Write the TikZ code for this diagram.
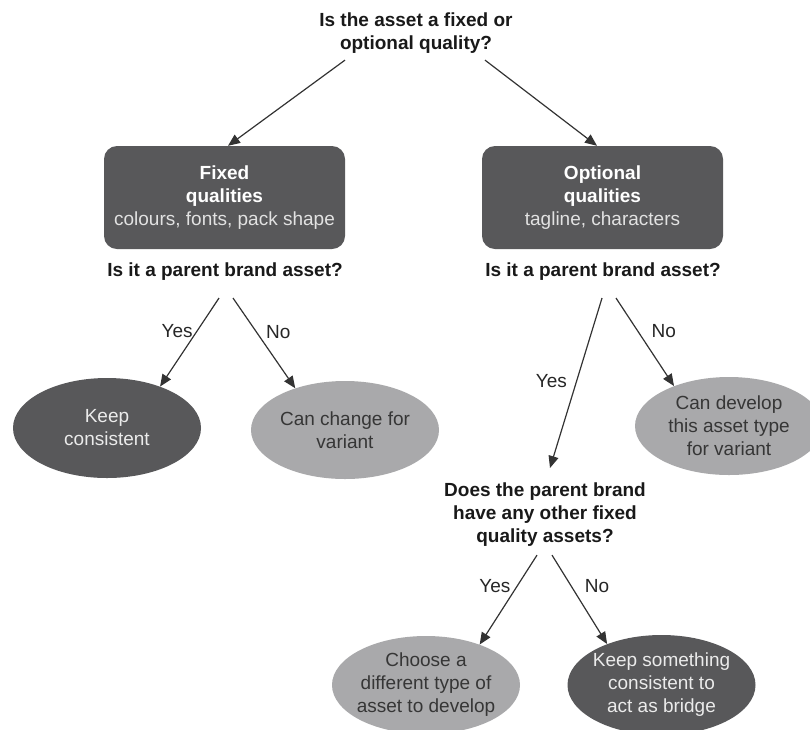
\documentclass[tikz,border=0pt]{standalone}
\usepackage{fontspec}
\setmainfont{Liberation Sans}
\usetikzlibrary{arrows.meta,positioning,shapes.geometric}
\definecolor{boxgray}{HTML}{58585A}
\definecolor{ovalgray}{HTML}{A9A9AB}
\definecolor{inkgray}{HTML}{363636}
\definecolor{subgray}{HTML}{E2E2E2}

\begin{document}
\begin{tikzpicture}[x=1pt,y=1pt,
    every node/.style={font=\fontsize{19}{23}\selectfont,inner sep=0pt,align=center},
    quest/.style={font=\bfseries\fontsize{19}{23}\selectfont,text=black!90},
    qualbox/.style={fill=boxgray,rounded corners=13pt,minimum width=241pt,minimum height=103pt,text=white},
    darkoval/.style={ellipse,fill=boxgray,inner xsep=-10pt,minimum width=188pt,minimum height=100pt,text=white!92!black},
    lightoval/.style={ellipse,fill=ovalgray,inner xsep=-10pt,minimum width=188pt,minimum height=98pt,text=inkgray},
    arr/.style={-{Triangle[length=12pt,width=10pt]},line width=1.2pt,draw=black!80},
    ans/.style={inner sep=1pt,text=black!85}]
  \useasboundingbox (0,0) rectangle (810,-729);
  \clip (0,0) rectangle (810,-729);

  \node[quest,anchor=north] (title) at (416,-13) {Is the asset a fixed or\\optional quality?};
  \node[qualbox] (fixed) at (224.5,-197.5)
       {\textbf{Fixed}\\\textbf{qualities}\\{\color{subgray}colours, fonts, pack shape}};
  \node[qualbox] (optional) at (602.5,-197.5)
       {\textbf{Optional}\\\textbf{qualities}\\{\color{subgray}tagline, characters}};
  \node[quest] (parentL) at (225,-272) {Is it a parent brand asset?};
  \node[quest] (parentR) at (603,-272) {Is it a parent brand asset?};

  \node[darkoval] (keep) at (107,-428) {Keep\\consistent};
  \node[lightoval] (change) at (345,-430) {Can change for\\variant};
  \node[lightoval] (develop) at (729,-426) {Can develop\\this asset type\\for variant};
  \node[quest,anchor=north] (other) at (545,-483)
       {Does the parent brand\\have any other fixed\\quality assets?};
  \node[lightoval] (choose) at (426,-685) {Choose a\\different type of\\asset to develop};
  \node[darkoval] (bridge) at (661.5,-685) {Keep something\\consistent to\\act as bridge};

  \draw[arr] ([xshift=-71pt,yshift=-6pt]title.south) -- ([xshift=3.5pt]fixed.north);
  \draw[arr] ([xshift=69pt,yshift=-6pt]title.south) -- ([xshift=-5.5pt]optional.north);
  \draw[arr] ([xshift=-6pt,yshift=-17pt]parentL.south) -- (keep.38)
       node[ans,pos=0.37,left=3pt] {Yes};
  \draw[arr] ([xshift=8pt,yshift=-17pt]parentL.south) -- (change.140)
       node[ans,pos=0.38,right=8pt] {No};
  \draw[arr] ([xshift=-1pt,yshift=-17pt]parentR.south) -- ([xshift=5pt,yshift=15pt]other.north)
       node[ans,pos=0.49,left=8pt] {Yes};
  \draw[arr] ([xshift=13pt,yshift=-17pt]parentR.south) -- (develop.144)
       node[ans,pos=0.38,right=12pt] {No};
  \draw[arr] ([xshift=-8pt,yshift=-8pt]other.south) -- (choose.37)
       node[ans,pos=0.35,left=5pt] {Yes};
  \draw[arr] ([xshift=7pt,yshift=-8pt]other.south) -- (bridge.143)
       node[ans,pos=0.35,right=12pt] {No};
\end{tikzpicture}
\end{document}
